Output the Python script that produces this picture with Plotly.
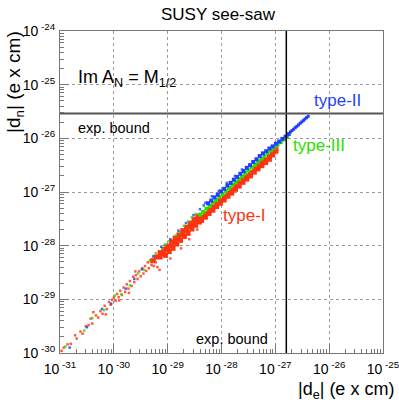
import plotly.graph_objects as go

# ---------------- data (log10 of |d_e|, |d_n| in e x cm) ----------------
DECADES_X = [-31, -30, -29, -28, -27, -26, -25]
DECADES_Y = [-30, -29, -28, -27, -26, -25, -24]
TICK_LABELS_X = ["10<sup>&nbsp;-31</sup>", "10<sup>&nbsp;-30</sup>", "10<sup>&nbsp;-29</sup>",
                 "10<sup>&nbsp;-28</sup>", "10<sup>&nbsp;-27</sup>", "10<sup>&nbsp;-26</sup>",
                 "10<sup>&nbsp;-25</sup>"]
TICK_LABELS_Y = ["10<sup>&nbsp;-30</sup>", "10<sup>&nbsp;-29</sup>", "10<sup>&nbsp;-28</sup>",
                 "10<sup>&nbsp;-27</sup>", "10<sup>&nbsp;-26</sup>", "10<sup>&nbsp;-25</sup>",
                 "10<sup>&nbsp;-24</sup>"]

BOUND_DE = 1.6e-27   # experimental bound on electron EDM
BOUND_DN = 2.9e-26   # experimental bound on neutron EDM

# type-I (red): dense core
RED_CORE = [
    (-29.28, -28.28), (-29.21, -28.21), (-29.14, -28.13), (-29.07, -28.07), (-29.00, -28.01),
    (-28.93, -27.93), (-28.86, -27.86), (-28.79, -27.80), (-28.72, -27.72), (-28.65, -27.66),
    (-28.58, -27.58), (-28.51, -27.51), (-28.44, -27.45),
    (-29.14, -28.21), (-29.07, -28.14), (-29.00, -28.07),
    (-28.93, -28.00), (-28.86, -27.94), (-28.79, -27.86), (-28.72, -27.79), (-28.65, -27.72),
    (-28.58, -27.65), (-28.51, -27.59), (-28.44, -27.52),
    (-29.04, -28.18), (-28.97, -28.11),
    (-28.90, -28.05), (-28.83, -27.97), (-28.76, -27.90), (-28.69, -27.83), (-28.62, -27.77),
    (-28.55, -27.69), (-28.48, -27.62), (-28.41, -27.56),
    (-28.37, -27.47), (-28.30, -27.41), (-28.23, -27.34), (-28.16, -27.28), (-28.09, -27.21),
    (-28.02, -27.15), (-27.95, -27.09), (-27.88, -27.02), (-27.81, -26.96), (-27.74, -26.89),
    (-27.67, -26.83), (-27.60, -26.76), (-27.53, -26.70), (-27.46, -26.64), (-27.39, -26.57),
    (-27.32, -26.51), (-27.25, -26.45), (-27.18, -26.40), (-27.11, -26.34), (-27.05, -26.27),
    (-26.99, -26.20),
    (-28.37, -27.53), (-28.30, -27.47), (-28.23, -27.40), (-28.16, -27.34), (-28.09, -27.27),
    (-28.02, -27.21), (-27.95, -27.15), (-27.88, -27.08), (-27.81, -27.02), (-27.74, -26.95),
    (-27.67, -26.89), (-27.60, -26.82), (-27.53, -26.76), (-27.46, -26.70), (-27.39, -26.63),
    (-27.32, -26.57), (-27.25, -26.51), (-27.18, -26.45), (-27.11, -26.39), (-27.05, -26.31),
    (-26.99, -26.24),
]
# type-I (red): sparse points
RED_SPARSE = [
    (-30.97, -29.96), (-30.93, -29.90), (-30.86, -29.84), (-30.80, -29.83), (-30.72, -29.67),
    (-30.69, -29.73), (-30.62, -29.60), (-30.58, -29.64), (-30.52, -29.50), (-30.47, -29.48),
    (-30.43, -29.36), (-30.40, -29.45), (-30.38, -29.24), (-30.33, -29.30), (-30.29, -29.34),
    (-30.25, -29.22), (-30.21, -29.27), (-30.17, -29.12), (-30.15, -29.28), (-30.13, -29.18),
    (-30.09, -29.05), (-30.06, -29.10), (-30.03, -29.01), (-30.00, -28.97), (-29.97, -29.03),
    (-29.94, -28.90), (-29.91, -28.96), (-29.90, -29.02), (-29.88, -28.84), (-29.85, -28.92),
    (-29.82, -28.78), (-29.79, -28.86), (-29.76, -28.72), (-29.73, -28.80), (-29.72, -28.88),
    (-29.70, -28.66), (-29.67, -28.75), (-29.64, -28.58), (-29.62, -28.68), (-29.60, -28.48),
    (-29.59, -28.55), (-29.56, -28.62), (-29.53, -28.48), (-29.50, -28.57), (-29.47, -28.42),
    (-29.45, -28.52), (-29.42, -28.38), (-29.40, -28.47), (-29.37, -28.31), (-29.35, -28.42),
    (-29.32, -28.28), (-29.30, -28.36), (-29.15, -28.45), (-28.95, -28.24), (-28.75, -28.05),
    (-28.60, -27.88), (-28.45, -27.70), (-28.88, -27.84), (-29.05, -28.00),
    (-29.26, -28.38), (-29.22, -28.31), (-29.19, -28.40), (-29.24, -28.26),
]
# type-III (green)
GREEN_CORE = [
    (-28.40, -27.42), (-28.34, -27.37), (-28.28, -27.31), (-28.22, -27.26), (-28.16, -27.20),
    (-28.10, -27.15), (-28.04, -27.09), (-27.98, -27.04), (-27.92, -26.98), (-27.86, -26.93),
    (-27.80, -26.87), (-27.74, -26.82), (-27.68, -26.76), (-27.62, -26.71), (-27.56, -26.65),
    (-27.50, -26.60), (-27.44, -26.54), (-27.38, -26.49), (-27.32, -26.43), (-27.26, -26.38),
    (-27.20, -26.33), (-27.14, -26.27), (-27.08, -26.22), (-27.02, -26.17), (-26.96, -26.12),
    (-26.90, -26.07), (-26.84, -26.02), (-26.78, -25.97),
]
GREEN_SPARSE = [
    (-30.90, -29.88), (-30.55, -29.58), (-30.40, -29.35), (-30.18, -29.20), (-29.98, -28.93),
    (-29.86, -28.90), (-29.70, -28.74), (-29.55, -28.52), (-29.44, -28.45), (-29.33, -28.28),
    (-29.22, -28.14), (-29.10, -28.05), (-28.98, -27.92), (-28.85, -27.81), (-28.70, -27.63),
    (-28.62, -27.55), (-28.55, -27.47), (-28.48, -27.41), (-28.78, -27.75), (-29.05, -27.98),
]
# type-II (blue)
BLUE_CORE = [
    (-28.25, -27.21), (-28.19, -27.16), (-28.13, -27.10), (-28.07, -27.05), (-28.01, -26.99),
    (-27.95, -26.94), (-27.89, -26.88), (-27.83, -26.83), (-27.77, -26.77), (-27.71, -26.72),
    (-27.65, -26.66), (-27.59, -26.61), (-27.53, -26.55), (-27.47, -26.50), (-27.41, -26.44),
    (-27.35, -26.39), (-27.29, -26.33), (-27.23, -26.28), (-27.17, -26.24), (-27.11, -26.19),
    (-27.05, -26.15), (-26.99, -26.10), (-26.93, -26.06), (-26.87, -26.01), (-26.81, -25.97),
    (-26.75, -25.92),
]
BLUE_SPARSE = [
    (-30.82, -29.90), (-30.50, -29.52), (-30.22, -29.18), (-30.05, -29.08), (-29.78, -28.80),
    (-29.62, -28.62), (-29.48, -28.44), (-29.27, -28.20), (-29.12, -28.02), (-28.95, -27.88),
    (-28.80, -27.72), (-28.66, -27.58), (-28.52, -27.43), (-28.40, -27.32), (-28.33, -27.25),
    (-28.30, -27.20), (-28.18, -27.08), (-28.05, -26.98), (-27.90, -26.83), (-27.75, -26.70),
    (-27.62, -26.58),
]
BLUE_TIP = [
    (-26.72, -25.88), (-26.69, -25.855), (-26.66, -25.83), (-26.63, -25.80), (-26.60, -25.775),
    (-26.57, -25.75), (-26.54, -25.72), (-26.51, -25.695), (-26.48, -25.67), (-26.45, -25.64),
    (-26.42, -25.615), (-26.39, -25.59),
]

RED = "#ff3311"
GREEN = "#2ae000"
BLUE = "#1f3fff"
FONT = "Liberation Sans, Arial, Helvetica, sans-serif"

fig = go.Figure()


def add_points(pairs, color, size, opacity=1.0):
    fig.add_trace(go.Scatter(
        x=[10 ** p[0] for p in pairs], y=[10 ** p[1] for p in pairs],
        mode="markers", opacity=opacity,
        marker=dict(symbol="square", size=size, color=color, line=dict(width=0)),
        showlegend=False, hoverinfo="skip"))


add_points(RED_SPARSE, RED, 2.5, 0.8)
add_points(RED_CORE, RED, 5)
add_points(GREEN_SPARSE, GREEN, 2.5, 0.8)
add_points(GREEN_CORE, GREEN, 4)
add_points(BLUE_SPARSE, BLUE, 2.5, 0.8)
add_points(BLUE_TIP, BLUE, 3)
add_points(BLUE_CORE, BLUE, 4)

xmin, xmax = 10 ** DECADES_X[0], 10 ** DECADES_X[-1]
ymin, ymax = 10 ** DECADES_Y[0], 10 ** DECADES_Y[-1]

# experimental bounds
fig.add_trace(go.Scatter(x=[BOUND_DE, BOUND_DE], y=[ymin, ymax], mode="lines",
                         line=dict(color="black", width=1.5), showlegend=False, hoverinfo="skip"))
fig.add_trace(go.Scatter(x=[xmin, xmax], y=[BOUND_DN, BOUND_DN], mode="lines",
                         line=dict(color="#555555", width=1.8), showlegend=False, hoverinfo="skip"))

minor_x = [k * 10.0 ** e for e in DECADES_X[:-1] for k in range(2, 10)]
minor_y = [k * 10.0 ** e for e in DECADES_Y[:-1] for k in range(2, 10)]

axis_common = dict(
    type="log", showline=True, linecolor="#777777", linewidth=1, mirror=True,
    ticks="inside", ticklen=9, tickcolor="#777777", tickwidth=1,
    showgrid=True, gridcolor="#9a9a9a", griddash="dot", gridwidth=1,
    zeroline=False, tickfont=dict(family=FONT, size=14, color="black"),
    ticklabeloverflow="allow", automargin=False,
)

fig.update_xaxes(**axis_common, range=[DECADES_X[0], DECADES_X[-1]],
                 tickmode="array", tickvals=[10.0 ** e for e in DECADES_X], ticktext=TICK_LABELS_X,
                 ticklabelstandoff=3,
                 minor=dict(tickmode="array", tickvals=minor_x, ticks="inside", ticklen=4,
                            tickcolor="#777777", showgrid=False))
fig.update_yaxes(**axis_common, range=[DECADES_Y[0], DECADES_Y[-1]],
                 tickmode="array", tickvals=[10.0 ** e for e in DECADES_Y], ticktext=TICK_LABELS_Y,
                 ticklabelstandoff=1,
                 minor=dict(tickmode="array", tickvals=minor_y, ticks="inside", ticklen=4,
                            tickcolor="#777777", showgrid=False))

L, R, T, B = 60, 16, 31, 50
W, H = 399, 403
PW, PH = W - L - R, H - T - B


def px(xp):
    return (xp - L) / PW


def py(yp):
    return (H - B - yp) / PH


ann = []


def text(s, x, y, size, color="black", xanchor="left", yanchor="middle", angle=0):
    ann.append(dict(text=s, x=x, y=y, xref="paper", yref="paper", xanchor=xanchor, yanchor=yanchor,
                    showarrow=False, textangle=angle, font=dict(family=FONT, size=size, color=color)))


text("SUSY see-saw", px(218), py(15), 17, xanchor="center")
text("Im A<sub>N</sub> = M<sub>1/2</sub>", px(76), py(79), 18)
text("exp. bound", px(76), py(128), 14.5)
text("exp. bound", px(270), py(339), 14.5, xanchor="right")
text("type-II", px(312), py(101), 17, color=BLUE)
text("type-III", px(291), py(145), 17, color=GREEN)
text("type-I", px(221), py(215), 17, color=RED)
text("|d<sub>e</sub>| (e x cm)", px(396), py(404), 18, xanchor="right", yanchor="bottom")
text("|d<sub>n</sub>| (e x cm)", px(15), py(29), 19, xanchor="center", yanchor="top", angle=-90)

fig.update_layout(
    width=W, height=H, autosize=False,
    margin=dict(l=L, r=R, t=T, b=B),
    paper_bgcolor="white", plot_bgcolor="white",
    annotations=ann, showlegend=False,
    font=dict(family=FONT),
)

fig.write_html("out.html")
